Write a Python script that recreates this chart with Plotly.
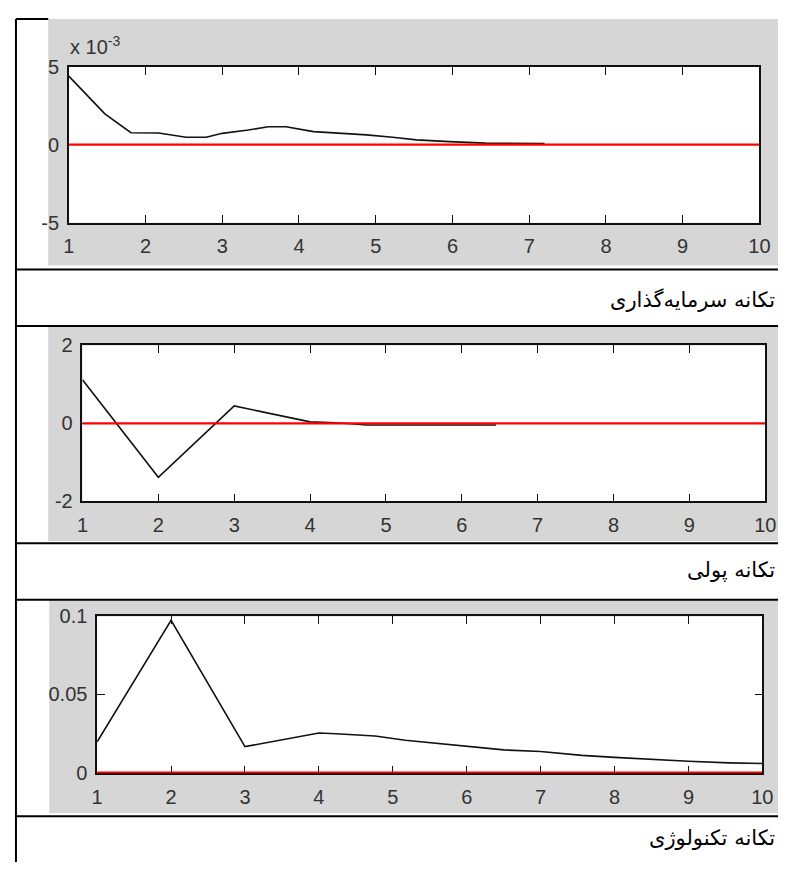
import plotly.graph_objects as go

# page is 797x881; the browser's default 8px body margin surrounds the figure
PAGE_W, PAGE_H = 797, 881
OFF = 8
W, H = PAGE_W - 2 * OFF, PAGE_H - 2 * OFF

# ---------------- data ----------------
periods = [1, 2, 3, 4, 5, 6, 7, 8, 9, 10]
zero_line = [0] * len(periods)

invest_x = [1, 1.47, 1.81, 2.17, 2.53, 2.79, 3.0, 3.34, 3.6, 3.83, 4.19, 4.54, 4.88, 5.22, 5.53, 5.96, 6.43, 7.2]
invest_y = [0.0044, 0.00198, 0.00077, 0.00075, 0.00048, 0.00048, 0.00073, 0.00094, 0.00115, 0.00115,
            0.00084, 0.00075, 0.00063, 0.00048, 0.00031, 0.0002, 0.0001, 0.00008]

money_x = [1, 2, 3, 4, 4.25, 4.5, 4.75, 5.5, 6.45]
money_y = [1.12, -1.38, 0.45, 0.04, 0.02, 0.0, -0.04, -0.04, -0.04]

tech_x = [1, 2, 3, 3.6, 4.0, 4.23, 4.76, 5.17, 5.92, 6.5, 7.0, 7.56, 8.0, 8.54, 9.0, 9.55, 10]
tech_y = [0.0197, 0.0975, 0.0166, 0.0217, 0.0253, 0.0248, 0.0234, 0.0207, 0.0172, 0.0145, 0.0135,
          0.011, 0.0097, 0.0083, 0.0072, 0.0062, 0.0058]

captions = ["تکانه سرمایه\u200cگذاری", "تکانه پولی", "تکانه تکنولوژی"]

y1_ticks = [-0.005, 0, 0.005]
y1_text = ["-5", "0", "5"]
y2_ticks = [-2, 0, 2]
y2_text = ["-2", "0", "2"]
y3_ticks = [0, 0.05, 0.1]
y3_text = ["0", "0.05", "0.1"]


def px(x):
    return min(max((x - OFF) / W, 0), 1)


def py(y):
    return min(max(1 - (y - OFF) / H, 0), 1)


fig = go.Figure()

series = [(invest_x, invest_y), (money_x, money_y), (tech_x, tech_y)]
for i, (sx, sy) in enumerate(series):
    ax = "" if i == 0 else str(i + 1)
    fig.add_trace(go.Scatter(x=sx, y=sy, mode="lines", line=dict(color="#111111", width=1.6),
                             xaxis="x" + ax, yaxis="y" + ax, showlegend=False, hoverinfo="skip"))
    fig.add_trace(go.Scatter(x=periods, y=zero_line, mode="lines", line=dict(color="#ff0000", width=2.2),
                             xaxis="x" + ax, yaxis="y" + ax, showlegend=False, hoverinfo="skip"))

# axes boxes in page pixels: left, right, top, bottom
boxes = [(64, 770, 57, 217), (78, 776, 343, 503), (93, 773, 621, 782)]
yranges = [[-0.005, 0.005], [-2, 2], [-0.0005, 0.1]]
yticks = [(y1_ticks, y1_text), (y2_ticks, y2_text), (y3_ticks, y3_text)]

tick_font = dict(family="Liberation Sans Narrow, Arial Narrow, Liberation Sans, sans-serif",
                 size=20, color="#333333")

for i, (l, r, t, b) in enumerate(boxes):
    sfx = "" if i == 0 else str(i + 1)
    fig.layout["xaxis" + sfx] = dict(
        domain=[px(l), px(r)], range=[1, 10], tickvals=periods, ticktext=[str(p) for p in periods],
        anchor="y" + sfx, showgrid=False, zeroline=False, showline=True, linecolor="#111111",
        linewidth=1.5, mirror="ticks", ticks="inside", ticklen=8, tickwidth=1.3, tickcolor="#111111",
        tickfont=tick_font, layer="below traces", ticklabelstandoff=5)
    fig.layout["yaxis" + sfx] = dict(
        domain=[py(b), py(t)], range=yranges[i], tickvals=yticks[i][0], ticktext=yticks[i][1],
        anchor="x" + sfx, showgrid=False, zeroline=False, showline=True, linecolor="#111111",
        linewidth=1.5, mirror="ticks", ticks="inside", ticklen=8, tickwidth=1.3, tickcolor="#111111",
        tickfont=tick_font, layer="below traces", ticklabelstandoff=4)

shapes = []
# gray figure backgrounds
for (x0, x1, y0, y1) in [(43, 790, 8, 261), (43, 790, 324, 544), (44, 790, 604, 823)]:
    shapes.append(dict(type="rect", xref="paper", yref="paper", x0=px(x0), x1=px(x1), y0=py(y1), y1=py(y0),
                       fillcolor="#d6d6d6", line=dict(width=0), layer="below"))
# white plot areas
for (l, r, t, b) in boxes:
    shapes.append(dict(type="rect", xref="paper", yref="paper", x0=px(l), x1=px(r), y0=py(b), y1=py(t),
                       fillcolor="white", line=dict(width=0), layer="below"))
# table lines
line_style = dict(color="black", width=2)
shapes.append(dict(type="line", xref="paper", yref="paper", x0=px(10), x1=px(10), y0=0, y1=1,
                   line=line_style))
shapes.append(dict(type="line", xref="paper", yref="paper", x0=px(10), x1=px(43), y0=1, y1=1,
                   line=line_style))
for yy in [265, 323, 546, 604, 826]:
    shapes.append(dict(type="line", xref="paper", yref="paper", x0=px(10), x1=1, y0=py(yy), y1=py(yy),
                       line=line_style))

annotations = [
    dict(xref="paper", yref="paper", x=px(63), y=py(35), xanchor="left", yanchor="middle",
         text="x 10<sup>-3</sup>", showarrow=False, font=tick_font),
]
for cap, cy in zip(captions, [296, 573, 848]):
    annotations.append(dict(xref="paper", yref="paper", x=px(788), y=py(cy), xanchor="right", yanchor="middle",
                            text=cap, showarrow=False,
                            font=dict(family="DejaVu Serif, DejaVu Sans, serif", size=21, color="black")))

fig.update_layout(width=W, height=H, margin=dict(l=0, r=0, t=0, b=0), paper_bgcolor="white",
                  plot_bgcolor="white", shapes=shapes, annotations=annotations, showlegend=False)

fig.write_html("out.html", config={"displayModeBar": False})
